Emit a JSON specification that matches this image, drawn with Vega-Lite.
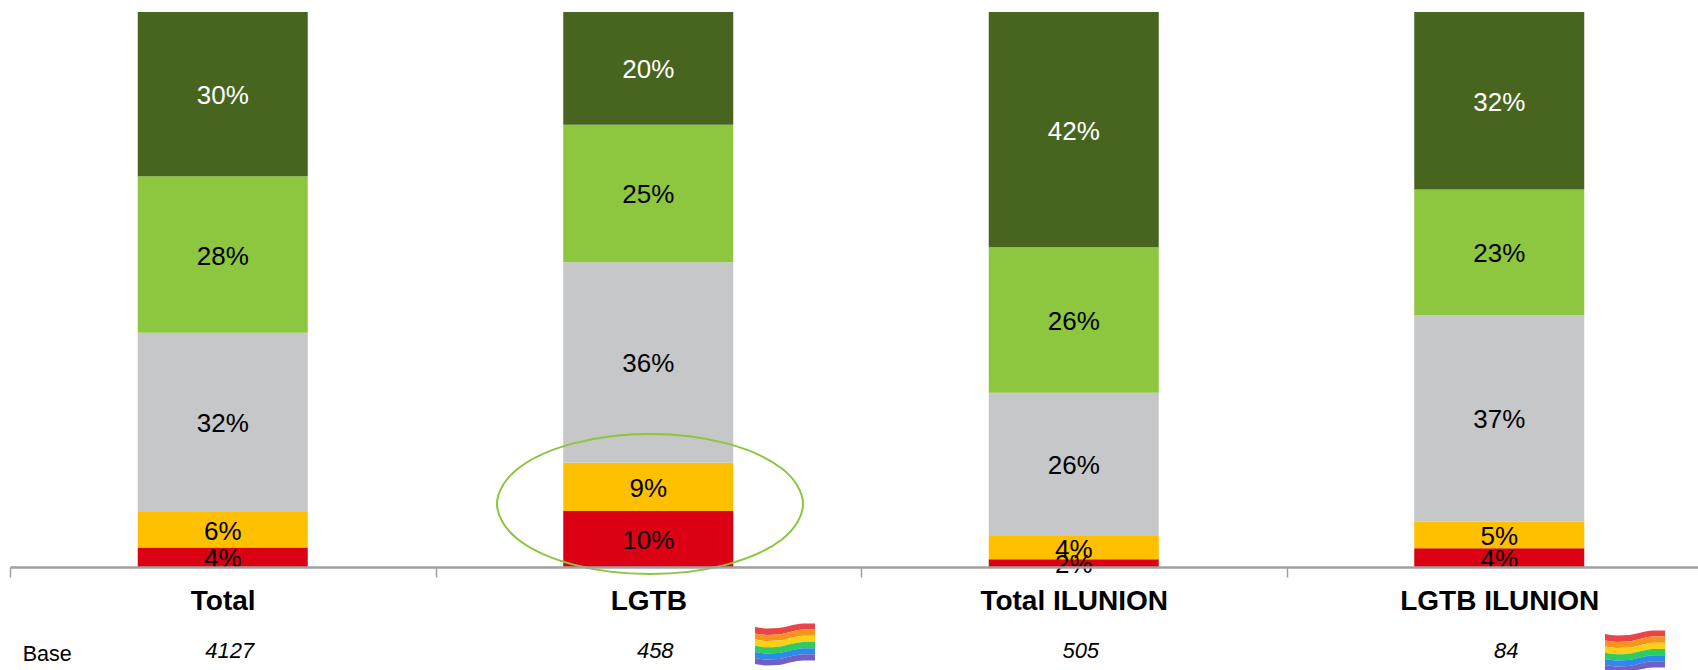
{
"$schema":"https://vega.github.io/schema/vega-lite/v6.json",
"width":1688,"height":555,
"autosize":{"type":"none"},
"padding":{"left":10,"top":12,"right":0,"bottom":103},
"background":"white",
"config":{"view":{"stroke":null},"font":"Liberation Sans"},
"datasets":{
"bars":[
{"group":"Total","answer":"1","value":3.5,"label":"4%"},
{"group":"Total","answer":"2","value":6.4,"label":"6%"},
{"group":"Total","answer":"3","value":32.3,"label":"32%"},
{"group":"Total","answer":"4","value":28.2,"label":"28%"},
{"group":"Total","answer":"5","value":29.6,"label":"30%"},
{"group":"LGTB","answer":"1","value":10.1,"label":"10%"},
{"group":"LGTB","answer":"2","value":8.7,"label":"9%"},
{"group":"LGTB","answer":"3","value":36.1,"label":"36%"},
{"group":"LGTB","answer":"4","value":24.8,"label":"25%"},
{"group":"LGTB","answer":"5","value":20.3,"label":"20%"},
{"group":"Total ILUNION","answer":"1","value":1.4,"label":"2%"},
{"group":"Total ILUNION","answer":"2","value":4.2,"label":"4%"},
{"group":"Total ILUNION","answer":"3","value":25.8,"label":"26%"},
{"group":"Total ILUNION","answer":"4","value":26.2,"label":"26%"},
{"group":"Total ILUNION","answer":"5","value":42.4,"label":"42%"},
{"group":"LGTB ILUNION","answer":"1","value":3.4,"label":"4%"},
{"group":"LGTB ILUNION","answer":"2","value":4.8,"label":"5%"},
{"group":"LGTB ILUNION","answer":"3","value":37.2,"label":"37%"},
{"group":"LGTB ILUNION","answer":"4","value":22.6,"label":"23%"},
{"group":"LGTB ILUNION","answer":"5","value":32.0,"label":"32%"}
],
"bases":[
{"group":"Total","base":"4127"},
{"group":"LGTB","base":"458"},
{"group":"Total ILUNION","base":"505"},
{"group":"LGTB ILUNION","base":"84"}
],
"ellipse":[
{"i":1,"x":803,"y":504},{"i":2,"x":782.5,"y":539},{"i":3,"x":726.5,"y":564.6},{"i":4,"x":650,"y":574},
{"i":5,"x":573.5,"y":564.6},{"i":6,"x":517.5,"y":539},{"i":7,"x":497,"y":504},{"i":8,"x":517.5,"y":469},
{"i":9,"x":573.5,"y":443.4},{"i":10,"x":650,"y":434},{"i":11,"x":726.5,"y":443.4},{"i":12,"x":782.5,"y":469}
],
"flags":[
{"f":1,"s":"1","x":755,"y":627,"y2":633.4},{"f":1,"s":"1","x":767,"y":628.5,"y2":634.9},{"f":1,"s":"1","x":779,"y":628,"y2":634.4},{"f":1,"s":"1","x":791,"y":625.5,"y2":631.7},{"f":1,"s":"1","x":803,"y":623.5,"y2":629.6},{"f":1,"s":"1","x":815,"y":623.5,"y2":629.6},
{"f":1,"s":"2","x":755,"y":633.4,"y2":639.6},{"f":1,"s":"2","x":767,"y":634.9,"y2":641.1},{"f":1,"s":"2","x":779,"y":634.4,"y2":640.6},{"f":1,"s":"2","x":791,"y":631.7,"y2":637.9},{"f":1,"s":"2","x":803,"y":629.6,"y2":635.8},{"f":1,"s":"2","x":815,"y":629.6,"y2":635.8},
{"f":1,"s":"3","x":755,"y":639.6,"y2":645.8},{"f":1,"s":"3","x":767,"y":641.1,"y2":647.3},{"f":1,"s":"3","x":779,"y":640.6,"y2":646.8},{"f":1,"s":"3","x":791,"y":637.9,"y2":644.1},{"f":1,"s":"3","x":803,"y":635.8,"y2":642},{"f":1,"s":"3","x":815,"y":635.8,"y2":642},
{"f":1,"s":"4","x":755,"y":645.8,"y2":652},{"f":1,"s":"4","x":767,"y":647.3,"y2":653.5},{"f":1,"s":"4","x":779,"y":646.8,"y2":653},{"f":1,"s":"4","x":791,"y":644.1,"y2":650.3},{"f":1,"s":"4","x":803,"y":642,"y2":648.2},{"f":1,"s":"4","x":815,"y":642,"y2":648.2},
{"f":1,"s":"5","x":755,"y":652,"y2":658},{"f":1,"s":"5","x":767,"y":653.5,"y2":659.5},{"f":1,"s":"5","x":779,"y":653,"y2":659},{"f":1,"s":"5","x":791,"y":650.3,"y2":656.3},{"f":1,"s":"5","x":803,"y":648.2,"y2":654.3},{"f":1,"s":"5","x":815,"y":648.2,"y2":654.3},
{"f":1,"s":"6","x":755,"y":658,"y2":664},{"f":1,"s":"6","x":767,"y":659.5,"y2":665.5},{"f":1,"s":"6","x":779,"y":659,"y2":665},{"f":1,"s":"6","x":791,"y":656.3,"y2":662.3},{"f":1,"s":"6","x":803,"y":654.3,"y2":660.5},{"f":1,"s":"6","x":815,"y":654.3,"y2":660.5},
{"f":2,"s":"1","x":1605,"y":634,"y2":640.4},{"f":2,"s":"1","x":1617,"y":635.5,"y2":641.9},{"f":2,"s":"1","x":1629,"y":635,"y2":641.4},{"f":2,"s":"1","x":1641,"y":632.5,"y2":638.7},{"f":2,"s":"1","x":1653,"y":630.5,"y2":636.6},{"f":2,"s":"1","x":1665,"y":630.5,"y2":636.6},
{"f":2,"s":"2","x":1605,"y":640.4,"y2":646.6},{"f":2,"s":"2","x":1617,"y":641.9,"y2":648.1},{"f":2,"s":"2","x":1629,"y":641.4,"y2":647.6},{"f":2,"s":"2","x":1641,"y":638.7,"y2":644.9},{"f":2,"s":"2","x":1653,"y":636.6,"y2":642.8},{"f":2,"s":"2","x":1665,"y":636.6,"y2":642.8},
{"f":2,"s":"3","x":1605,"y":646.6,"y2":652.8},{"f":2,"s":"3","x":1617,"y":648.1,"y2":654.3},{"f":2,"s":"3","x":1629,"y":647.6,"y2":653.8},{"f":2,"s":"3","x":1641,"y":644.9,"y2":651.1},{"f":2,"s":"3","x":1653,"y":642.8,"y2":649},{"f":2,"s":"3","x":1665,"y":642.8,"y2":649},
{"f":2,"s":"4","x":1605,"y":652.8,"y2":659},{"f":2,"s":"4","x":1617,"y":654.3,"y2":660.5},{"f":2,"s":"4","x":1629,"y":653.8,"y2":660},{"f":2,"s":"4","x":1641,"y":651.1,"y2":657.3},{"f":2,"s":"4","x":1653,"y":649,"y2":655.2},{"f":2,"s":"4","x":1665,"y":649,"y2":655.2},
{"f":2,"s":"5","x":1605,"y":659,"y2":665},{"f":2,"s":"5","x":1617,"y":660.5,"y2":666.5},{"f":2,"s":"5","x":1629,"y":660,"y2":666},{"f":2,"s":"5","x":1641,"y":657.3,"y2":663.3},{"f":2,"s":"5","x":1653,"y":655.2,"y2":661.3},{"f":2,"s":"5","x":1665,"y":655.2,"y2":661.3},
{"f":2,"s":"6","x":1605,"y":665,"y2":671},{"f":2,"s":"6","x":1617,"y":666.5,"y2":672.5},{"f":2,"s":"6","x":1629,"y":666,"y2":672},{"f":2,"s":"6","x":1641,"y":663.3,"y2":669.3},{"f":2,"s":"6","x":1653,"y":661.3,"y2":667.5},{"f":2,"s":"6","x":1665,"y":661.3,"y2":667.5}
]
},
"resolve":{"scale":{"x":"independent","y":"independent","color":"independent"}},
"layer":[
{"layer":[
{"data":{"name":"bars"},
"mark":{"type":"bar","width":170},
"encoding":{
"x":{"field":"group","type":"nominal","sort":["Total","LGTB","Total ILUNION","LGTB ILUNION"],
"scale":{"domain":["Total","LGTB","Total ILUNION","LGTB ILUNION"],"range":[0,1702],"paddingInner":0,"paddingOuter":0},
"axis":{"title":null,"orient":"bottom","labelAngle":0,"labelFontSize":28,"labelFontWeight":"bold","labelColor":"black","labelPadding":10,"labelLimit":600,"tickBand":"extent","tickSize":10,"tickColor":"#a0a0a0","tickWidth":1.5,"domainColor":"#a0a0a0","domainWidth":2.5,"zindex":1,"labelFont":"Liberation Sans"}},
"y":{"field":"value","type":"quantitative","stack":"zero","scale":{"domain":[0,100],"nice":false},"axis":null},
"order":{"field":"answer"},
"color":{"field":"answer","type":"nominal","scale":{"domain":["1","2","3","4","5"],"range":["#dc0014","#ffc000","#c6c7c9","#8dc63f","#48651f"]},"legend":null}
}},
{"data":{"name":"bars"},
"mark":{"type":"text","fontSize":26,"font":"Liberation Sans","dy":2},
"encoding":{
"x":{"field":"group","type":"nominal","sort":["Total","LGTB","Total ILUNION","LGTB ILUNION"]},
"y":{"field":"value","type":"quantitative","stack":"zero","bandPosition":0.5},
"order":{"field":"answer"},
"text":{"field":"label"},
"color":{"condition":{"test":"datum.answer=='5'","value":"white"},"value":"black"}
}},
{"data":{"name":"bases"},
"mark":{"type":"text","fontSize":22,"fontStyle":"italic","font":"Liberation Sans","dx":7},
"encoding":{
"x":{"field":"group","type":"nominal","sort":["Total","LGTB","Total ILUNION","LGTB ILUNION"]},
"y":{"datum":-15.2},
"text":{"field":"base"}
}},
{"data":{"values":[{"group":"Total","t":"Base"}]},
"mark":{"type":"text","fontSize":21.5,"font":"Liberation Sans","align":"left","dx":-200},
"encoding":{
"x":{"field":"group","type":"nominal","sort":["Total","LGTB","Total ILUNION","LGTB ILUNION"]},
"y":{"datum":-15.8},
"text":{"field":"t"}
}}
]},
{"data":{"name":"flags"},
"mark":{"type":"area","interpolate":"monotone"},
"encoding":{
"x":{"field":"x","type":"quantitative","scale":{"domain":[10,1712],"range":[0,1702],"nice":false,"zero":false},"axis":null},
"y":{"field":"y","type":"quantitative","scale":{"domain":[567,12],"nice":false,"zero":false},"axis":null},
"y2":{"field":"y2"},
"detail":{"field":"f"},
"color":{"field":"s","type":"nominal","scale":{"domain":["1","2","3","4","5","6"],"range":["#e8444a","#f7941d","#fdd017","#2ecc5e","#2a8be8","#7060c8"]},"legend":null}
}},
{"data":{"name":"ellipse"},
"mark":{"type":"line","interpolate":"cardinal-closed","stroke":"#8cc63f","strokeWidth":2},
"encoding":{
"x":{"field":"x","type":"quantitative","scale":{"domain":[10,1712],"range":[0,1702],"nice":false,"zero":false},"axis":null},
"y":{"field":"y","type":"quantitative","scale":{"domain":[567,12],"nice":false,"zero":false},"axis":null},
"order":{"field":"i"}
}}
]
}
